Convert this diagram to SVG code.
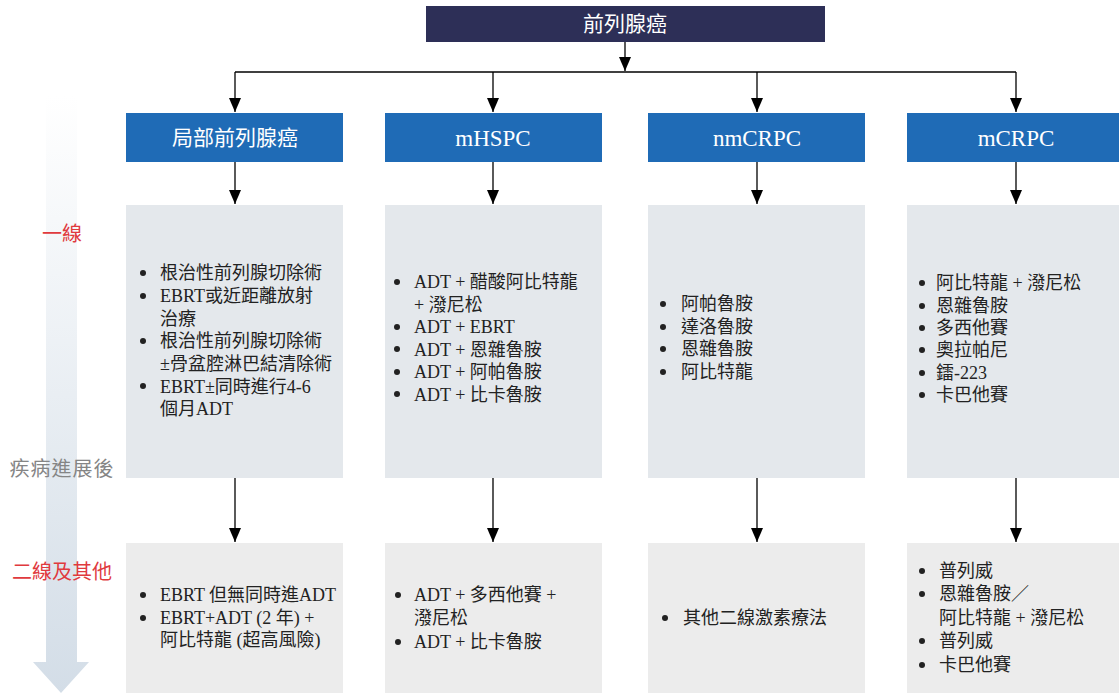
<svg xmlns="http://www.w3.org/2000/svg" width="1119" height="693" viewBox="0 0 1119 693">
<defs>
<linearGradient id="gArrow" x1="0" y1="0" x2="0" y2="1">
<stop offset="0" stop-color="#ffffff"/>
<stop offset="1" stop-color="#d3dde7"/>
</linearGradient>
<marker id="ah" markerUnits="userSpaceOnUse" markerWidth="14" markerHeight="12" refX="14" refY="6" orient="auto" viewBox="0 0 14 12">
<path d="M0,0 L14,6 L0,12 Z" fill="#000"/>
</marker>
<style>
.top{fill:#2d2f57}
.hdr{fill:#1f6bb6}
.b1{fill:#e4e8ec}
.b2{fill:#ececec}
.ht{font-family:"Liberation Serif","Noto Sans CJK TC",serif;font-size:21px;fill:#fff;text-anchor:middle}
.hl{font-size:23px}
.t{font-family:"Liberation Serif","Noto Sans CJK TC",serif;font-size:18px;fill:#222}
.con line{stroke:#000;stroke-width:1.3;fill:none}
.red{font-family:"Noto Sans CJK TC",sans-serif;font-size:20px;fill:#e03a3e;text-anchor:middle}
.gry{font-family:"Noto Sans CJK TC",sans-serif;font-size:20px;letter-spacing:1px;fill:#858585;text-anchor:middle}
</style>
</defs>
<rect width="1119" height="693" fill="#fff"/>
<g id="timeline">
<path d="M46,96 H77 V662 H89 L61,693 L33,662 H46 Z" fill="url(#gArrow)"/>
<text class="red" x="62" y="241">一線</text>
<text class="gry" x="62" y="476">疾病進展後</text>
<text class="red" x="62" y="579">二線及其他</text>
</g>
<g class="con" id="connectors">
<line x1="625" y1="42" x2="625" y2="71" marker-end="url(#ah)"/>
<line x1="235" y1="72" x2="1016" y2="72"/>
<line x1="235" y1="72" x2="235" y2="112" marker-end="url(#ah)"/>
<line x1="493" y1="72" x2="493" y2="112" marker-end="url(#ah)"/>
<line x1="757" y1="72" x2="757" y2="112" marker-end="url(#ah)"/>
<line x1="1016" y1="72" x2="1016" y2="112" marker-end="url(#ah)"/>
<line x1="235" y1="162" x2="235" y2="204" marker-end="url(#ah)"/>
<line x1="493" y1="162" x2="493" y2="204" marker-end="url(#ah)"/>
<line x1="757" y1="162" x2="757" y2="204" marker-end="url(#ah)"/>
<line x1="1016" y1="162" x2="1016" y2="204" marker-end="url(#ah)"/>
<line x1="235" y1="478" x2="235" y2="542" marker-end="url(#ah)"/>
<line x1="493" y1="478" x2="493" y2="542" marker-end="url(#ah)"/>
<line x1="757" y1="478" x2="757" y2="542" marker-end="url(#ah)"/>
<line x1="1016" y1="478" x2="1016" y2="542" marker-end="url(#ah)"/>
</g>
<g id="root"><rect class="top" x="426" y="6" width="399" height="36"/><text class="ht" x="625" y="31">前列腺癌</text></g>
<g id="h1"><rect class="hdr" x="126" y="113" width="217" height="49"/><text class="ht" x="235" y="145">局部前列腺癌</text></g>
<g id="h2"><rect class="hdr" x="385" y="113" width="217" height="49"/><text class="ht hl" x="493" y="146">mHSPC</text></g>
<g id="h3"><rect class="hdr" x="648" y="113" width="217" height="49"/><text class="ht hl" x="757" y="146">nmCRPC</text></g>
<g id="h4"><rect class="hdr" x="907" y="113" width="212" height="49"/><text class="ht hl" x="1016" y="146">mCRPC</text></g>
<g id="f1"><rect class="b1" x="126" y="205" width="217" height="273"/>
<g class="t">
<circle cx="143" cy="273" r="3"/><circle cx="143" cy="296" r="3"/><circle cx="143" cy="341" r="3"/><circle cx="143" cy="386" r="3"/>
</g>
<text class="t" x="160" y="279">根治性前列腺切除術</text>
<text class="t" x="160" y="302">EBRT或近距離放射</text>
<text class="t" x="160" y="325">治療</text>
<text class="t" x="160" y="347">根治性前列腺切除術</text>
<text class="t" x="160" y="370">±骨盆腔淋巴結清除術</text>
<text class="t" x="160" y="393">EBRT±同時進行4-6</text>
<text class="t" x="160" y="415">個月ADT</text>
</g>
<g id="f2"><rect class="b1" x="385" y="205" width="217" height="273"/>
<g class="t"><circle cx="397" cy="282" r="3"/><circle cx="397" cy="327" r="3"/><circle cx="397" cy="349" r="3"/><circle cx="397" cy="372" r="3"/><circle cx="397" cy="394" r="3"/></g>
<text class="t" x="414" y="288">ADT + 醋酸阿比特龍</text>
<text class="t" x="414" y="311">+ 潑尼松</text>
<text class="t" x="414" y="333">ADT + EBRT</text>
<text class="t" x="414" y="356">ADT + 恩雜魯胺</text>
<text class="t" x="414" y="378">ADT + 阿帕魯胺</text>
<text class="t" x="414" y="401">ADT + 比卡魯胺</text>
</g>
<g id="f3"><rect class="b1" x="648" y="205" width="217" height="273"/>
<g class="t"><circle cx="663" cy="304" r="3"/><circle cx="663" cy="327" r="3"/><circle cx="663" cy="349" r="3"/><circle cx="663" cy="372" r="3"/></g>
<text class="t" x="681" y="310">阿帕魯胺</text>
<text class="t" x="681" y="333">達洛魯胺</text>
<text class="t" x="681" y="355">恩雜魯胺</text>
<text class="t" x="681" y="378">阿比特龍</text>
</g>
<g id="f4"><rect class="b1" x="907" y="205" width="212" height="273"/>
<g class="t"><circle cx="922" cy="283" r="3"/><circle cx="922" cy="306" r="3"/><circle cx="922" cy="328" r="3"/><circle cx="922" cy="350" r="3"/><circle cx="922" cy="373" r="3"/><circle cx="922" cy="395" r="3"/></g>
<text class="t" x="936" y="289">阿比特龍 + 潑尼松</text>
<text class="t" x="936" y="312">恩雜魯胺</text>
<text class="t" x="936" y="334">多西他賽</text>
<text class="t" x="936" y="356">奧拉帕尼</text>
<text class="t" x="936" y="379">鐳-223</text>
<text class="t" x="936" y="401">卡巴他賽</text>
</g>
<g id="s1"><rect class="b2" x="126" y="543" width="217" height="150"/>
<g class="t"><circle cx="143" cy="595" r="3"/><circle cx="143" cy="618" r="3"/></g>
<text class="t" x="160" y="601">EBRT 但無同時進ADT</text>
<text class="t" x="160" y="624">EBRT+ADT (2 年) +</text>
<text class="t" x="160" y="646">阿比特龍 (超高風險)</text>
</g>
<g id="s2"><rect class="b2" x="385" y="543" width="217" height="150"/>
<g class="t"><circle cx="398" cy="595" r="3"/><circle cx="398" cy="642" r="3"/></g>
<text class="t" x="414" y="601">ADT + 多西他賽 +</text>
<text class="t" x="414" y="624">潑尼松</text>
<text class="t" x="414" y="648">ADT + 比卡魯胺</text>
</g>
<g id="s3"><rect class="b2" x="648" y="543" width="217" height="150"/>
<circle class="t" cx="665" cy="618" r="3"/>
<text class="t" x="683" y="624">其他二線激素療法</text>
</g>
<g id="s4"><rect class="b2" x="907" y="543" width="212" height="150"/>
<g class="t"><circle cx="922" cy="571" r="3"/><circle cx="922" cy="594" r="3"/><circle cx="922" cy="641" r="3"/><circle cx="922" cy="665" r="3"/></g>
<text class="t" x="939" y="577">普列威</text>
<text class="t" x="939" y="600">恩雜魯胺／</text>
<text class="t" x="939" y="624">阿比特龍 + 潑尼松</text>
<text class="t" x="939" y="647">普列威</text>
<text class="t" x="939" y="671">卡巴他賽</text>
</g>
</svg>
